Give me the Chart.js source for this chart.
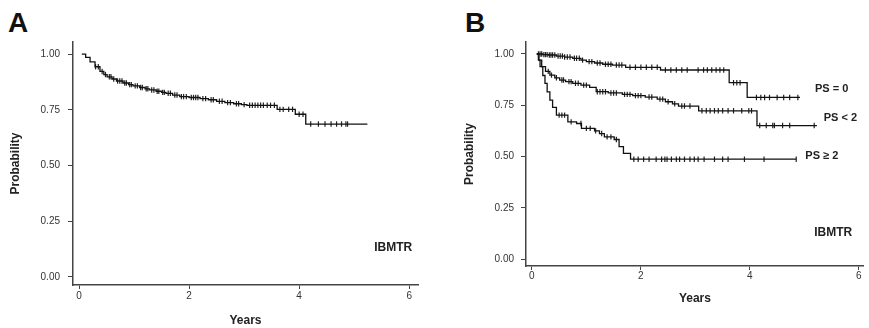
<!DOCTYPE html>
<html>
<head>
<meta charset="utf-8">
<script src="https://cdn.jsdelivr.net/npm/chart.js@4.4.1/dist/chart.umd.min.js"></script>
<style>
  html, body { margin: 0; padding: 0; background: #fff; overflow: hidden; }
  #wrap { position: relative; width: 869px; height: 328px; }
  canvas { position: absolute; top: 0; }
  .letra { position: absolute; top: 9px; font: bold 28px/28px "Liberation Sans", Arial, sans-serif; color: #111; }
</style>
</head>
<body>
<div id="wrap">
  <div class="letra" style="left:8px">A</div>
  <div class="letra" style="left:465px">B</div>
  <canvas id="grafA" width="435" height="328" style="left:0"></canvas>
  <canvas id="grafB" width="429" height="328" style="left:440px"></canvas>
</div>
<script>
// Ticks
const yTicks = [0, 0.25, 0.5, 0.75, 1];
const xTicks = [0, 2, 4, 6];

// Panel A: todos los pacientes (tiempo en años, supervivencia tras cada evento)
const aTime = [0.05, 0.12, 0.2, 0.29, 0.38, 0.45, 0.51, 0.6, 0.68, 0.8, 0.9, 0.98, 1.1, 1.2, 1.28, 1.4, 1.5, 1.58, 1.7, 1.83, 2.0, 2.2, 2.35, 2.5, 2.65, 2.81, 2.95, 3.05, 3.6, 3.93, 4.12, 5.24];
const aSurv = [1.0, 0.985, 0.965, 0.943, 0.922, 0.908, 0.898, 0.888, 0.879, 0.87, 0.863, 0.857, 0.85, 0.844, 0.839, 0.833, 0.828, 0.824, 0.816, 0.809, 0.805, 0.8, 0.795, 0.788, 0.782, 0.777, 0.773, 0.77, 0.752, 0.73, 0.686, 0.686];
const aCens = [0.3, 0.35, 0.42, 0.48, 0.55, 0.58, 0.63, 0.7, 0.74, 0.78, 0.83, 0.86, 0.92, 0.95, 1.02, 1.06, 1.12, 1.15, 1.22, 1.25, 1.32, 1.36, 1.42, 1.45, 1.52, 1.55, 1.62, 1.66, 1.74, 1.78, 1.86, 1.9, 1.95, 2.04, 2.08, 2.12, 2.16, 2.25, 2.3, 2.4, 2.44, 2.55, 2.6, 2.7, 2.75, 2.86, 2.9, 3.0, 3.1, 3.15, 3.2, 3.25, 3.3, 3.35, 3.42, 3.48, 3.55, 3.65, 3.71, 3.81, 3.88, 4.0, 4.07, 4.21, 4.35, 4.47, 4.58, 4.68, 4.77, 4.85, 4.88];

// Panel B: por estado funcional (PS)
const ps0Time = [0.09, 0.2, 0.3, 0.45, 0.6, 0.75, 0.9, 1.0, 1.15, 1.3, 1.48, 1.72, 2.36, 3.62, 3.95, 4.92];
const ps0Surv = [1.0, 0.997, 0.995, 0.99, 0.985, 0.979, 0.97, 0.963, 0.956, 0.95, 0.946, 0.935, 0.922, 0.86, 0.788, 0.788];
const ps0Cens = [0.12, 0.15, 0.18, 0.22, 0.25, 0.28, 0.32, 0.35, 0.38, 0.42, 0.48, 0.52, 0.56, 0.6, 0.65, 0.7, 0.78, 0.82, 0.87, 0.93, 1.05, 1.1, 1.2, 1.25, 1.35, 1.4, 1.45, 1.55, 1.6, 1.65, 1.8, 1.9, 2.0, 2.1, 2.2, 2.3, 2.45, 2.55, 2.65, 2.75, 2.85, 3.05, 3.15, 3.22, 3.3, 3.38, 3.45, 3.52, 3.7, 3.76, 3.82, 4.12, 4.2, 4.27, 4.36, 4.5, 4.62, 4.73, 4.88];

const ps1Time = [0.09, 0.13, 0.18, 0.25, 0.33, 0.42, 0.51, 0.62, 0.75, 0.9, 1.06, 1.18, 1.4, 1.66, 1.85, 2.08, 2.3, 2.45, 2.58, 2.69, 3.06, 4.13, 5.23];
const ps1Surv = [1.0, 0.97, 0.938, 0.915, 0.897, 0.884, 0.873, 0.865, 0.857, 0.848, 0.837, 0.816, 0.81, 0.803, 0.797, 0.79, 0.78, 0.767, 0.757, 0.746, 0.723, 0.651, 0.651];
const ps1Cens = [0.3, 0.36, 0.45, 0.55, 0.58, 0.68, 0.72, 0.8, 0.85, 0.95, 1.0, 1.2, 1.25, 1.3, 1.35, 1.45, 1.5, 1.55, 1.7, 1.75, 1.8, 1.9, 1.95, 2.0, 2.15, 2.2, 2.35, 2.4, 2.5, 2.62, 2.75, 2.8, 2.9, 3.12, 3.2, 3.27, 3.35, 3.42, 3.5, 3.6, 3.7, 3.85, 3.98, 4.03, 4.18, 4.3, 4.42, 4.45, 4.6, 4.73, 5.18];

const ps2Time = [0.09, 0.12, 0.15, 0.2, 0.24, 0.28, 0.33, 0.38, 0.45, 0.66, 0.82, 0.91, 1.15, 1.24, 1.33, 1.51, 1.6, 1.68, 1.81, 4.85];
const ps2Surv = [1.0, 0.97, 0.938, 0.895, 0.857, 0.815, 0.775, 0.74, 0.702, 0.669, 0.661, 0.637, 0.625, 0.612, 0.596, 0.583, 0.548, 0.515, 0.487, 0.487];
const ps2Cens = [0.5, 0.55, 0.6, 0.72, 0.9, 1.0, 1.07, 1.17, 1.28, 1.38, 1.45, 1.55, 1.87, 1.95, 2.05, 2.15, 2.28, 2.38, 2.44, 2.48, 2.56, 2.65, 2.71, 2.8, 2.9, 2.98, 3.05, 3.16, 3.35, 3.5, 3.6, 3.9, 4.26, 4.85];

const FUENTE = '"Liberation Sans", Arial, sans-serif';
const NEGRO = '#111';

// valor de la curva en t (escalon)
function valorEn(tiempos, surv, t) {
  let v = surv[0];
  for (let i = 0; i < tiempos.length; i++) {
    if (tiempos[i] <= t) v = surv[i];
  }
  return v;
}

function curva(tiempos, surv) {
  return {
    data: tiempos.map((t, i) => ({ x: t, y: surv[i] })),
    stepped: true,
    borderColor: NEGRO,
    borderWidth: 1.3,
    pointRadius: 0,
    fill: false
  };
}

function censuras(cens, tiempos, surv) {
  return {
    data: cens.map(t => ({ x: t, y: valorEn(tiempos, surv, t) })),
    showLine: false,
    pointStyle: 'line',
    rotation: 90,
    pointRadius: 2.7,
    borderColor: '#222',
    borderWidth: 1.2,
    backgroundColor: '#222'
  };
}

// textos sobre el grafico (IBMTR, PS...)
const notas = {
  id: 'notas',
  afterDraw(chart, args, opts) {
    const { ctx, scales: { x, y } } = chart;
    ctx.save();
    ctx.fillStyle = '#222';
    ctx.textAlign = 'center';
    ctx.textBaseline = 'middle';
    (opts.items || []).forEach(it => {
      ctx.font = it.font;
      ctx.fillText(it.text, x.getPixelForValue(it.x), y.getPixelForValue(it.y));
    });
    ctx.restore();
  }
};

function crearGrafico(id, conf) {
  return new Chart(document.getElementById(id), {
    type: 'line',
    data: { datasets: conf.datasets },
    plugins: [notas],
    options: {
      responsive: false,
      animation: false,
      devicePixelRatio: 1,
      layout: { padding: conf.padding },
      plugins: {
        legend: { display: false },
        tooltip: { enabled: false },
        notas: { items: conf.notas }
      },
      scales: {
        x: {
          type: 'linear',
          min: conf.xMin,
          max: conf.xMax,
          afterFit: s => { s.height = conf.altoX; },
          afterBuildTicks: s => { s.ticks = xTicks.map(v => ({ value: v })); },
          grid: { drawOnChartArea: false, tickLength: 4, color: '#444', lineWidth: 1 },
          border: { color: '#444', width: 1.5 },
          ticks: { padding: conf.padX, color: '#333', font: { family: FUENTE, size: 10 }, maxRotation: 0 },
          title: { display: true, text: 'Years', color: '#222', font: { family: FUENTE, size: 12, weight: 'bold' }, padding: { top: 0, bottom: conf.padTituloX } }
        },
        y: {
          min: conf.yMin,
          max: conf.yMax,
          afterFit: s => { s.width = conf.anchoY; },
          afterBuildTicks: s => { s.ticks = yTicks.map(v => ({ value: v })); },
          grid: { drawOnChartArea: false, tickLength: 5, color: '#444', lineWidth: 1 },
          border: { color: '#444', width: 1.5 },
          ticks: { padding: conf.padY, color: '#333', font: { family: FUENTE, size: 10 }, callback: v => v.toFixed(2) },
          title: { display: true, text: 'Probability', color: '#222', font: { family: FUENTE, size: 12, weight: 'bold' }, padding: { top: conf.padTituloY, bottom: 0 } }
        }
      }
    }
  });
}

crearGrafico('grafA', {
  datasets: [curva(aTime, aSurv), censuras(aCens, aTime, aSurv)],
  padding: { top: 42, right: 17, bottom: 0, left: 0 },
  xMin: -0.11, xMax: 6.16, yMin: -0.036, yMax: 1.054,
  altoX: 43, anchoY: 73, padX: 1, padY: 8, padTituloX: 0, padTituloY: 8,
  notas: [
    { text: 'IBMTR', x: 5.71, y: 0.13, font: 'bold 12px ' + FUENTE }
  ]
});

crearGrafico('grafB', {
  datasets: [
    curva(ps0Time, ps0Surv), censuras(ps0Cens, ps0Time, ps0Surv),
    curva(ps1Time, ps1Surv), censuras(ps1Cens, ps1Time, ps1Surv),
    curva(ps2Time, ps2Surv), censuras(ps2Cens, ps2Time, ps2Surv)
  ],
  padding: { top: 42, right: 0, bottom: 0, left: 0 },
  xMin: -0.108, xMax: 6.09, yMin: -0.034, yMax: 1.0585,
  altoX: 62, anchoY: 86, padX: 0, padY: 7, padTituloX: 22, padTituloY: 22,
  notas: [
    { text: 'IBMTR', x: 5.53, y: 0.13, font: 'bold 12px ' + FUENTE },
    { text: 'PS = 0', x: 5.5, y: 0.83, font: 'bold 11px ' + FUENTE },
    { text: 'PS < 2', x: 5.66, y: 0.688, font: 'bold 11px ' + FUENTE },
    { text: 'PS ≥ 2', x: 5.32, y: 0.502, font: 'bold 11px ' + FUENTE }
  ]
});
</script>
</body>
</html>
